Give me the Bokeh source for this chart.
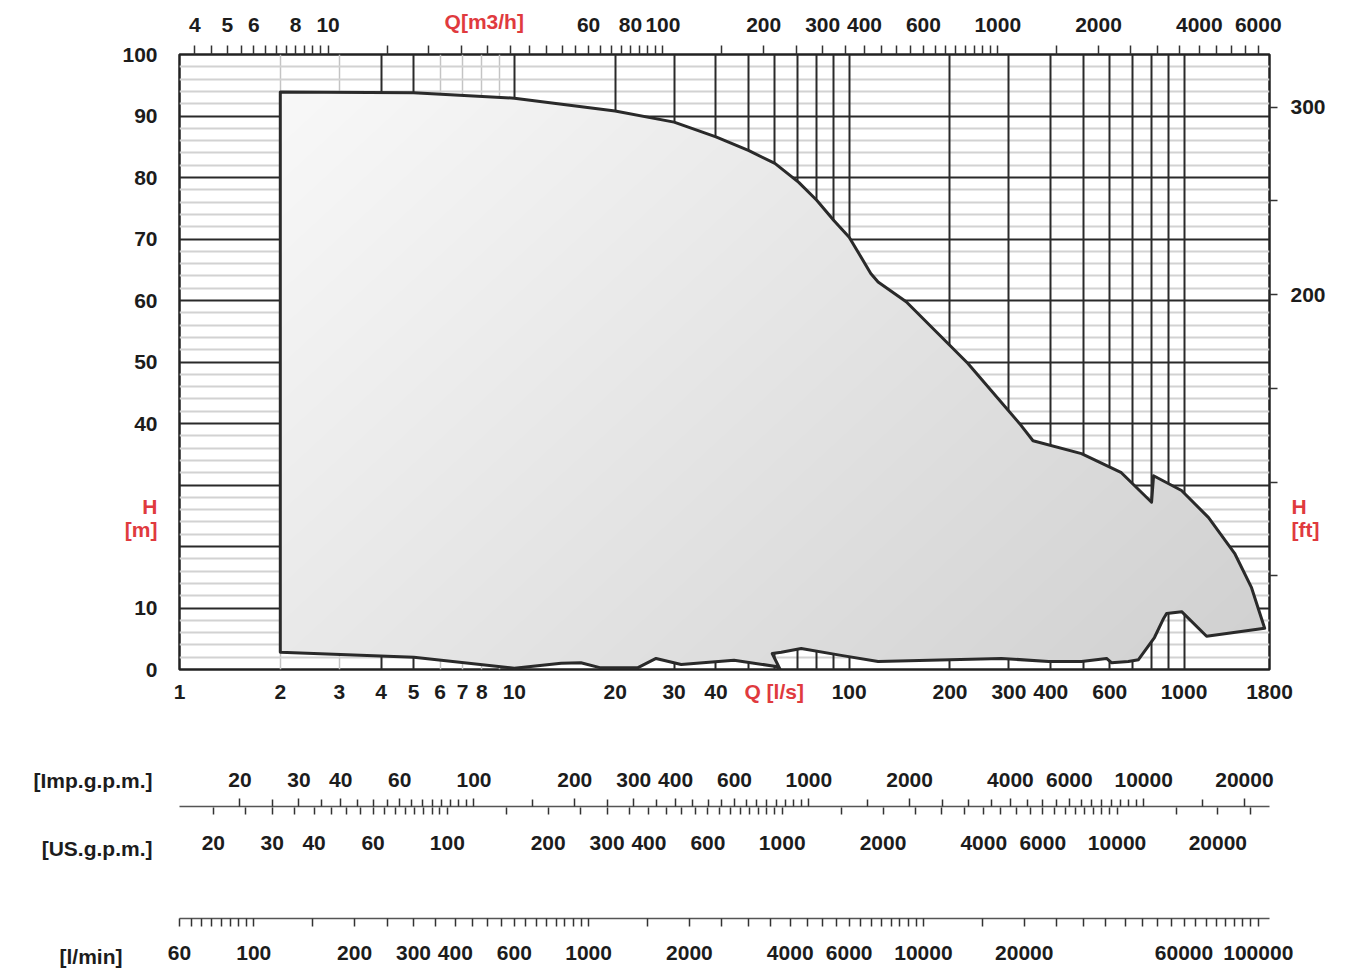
import numpy as np
from bokeh.plotting import figure
from bokeh.models import (Range1d, LogScale, LogAxis, LinearAxis, FixedTicker, Grid,
                          NumeralTickFormatter)
from bokeh.core.properties import value
from bokeh.layouts import column, row
from bokeh.embed import file_html
from bokeh.resources import INLINE

# ---------------- data ----------------
# upper envelope (Q in l/s, H in m), left to right
top_q = [2, 5, 10, 20, 30, 40, 50, 60, 70.7, 80, 90, 100, 116, 122, 148, 226, 326, 354,
         494, 650, 800, 811, 983, 1184, 1416, 1591, 1741]
top_h = [93.9, 93.8, 92.9, 90.8, 89.0, 86.6, 84.4, 82.3, 79.2, 76.3, 73.0, 70.3, 64.4, 63.0,
         59.8, 49.8, 39.7, 37.2, 35.1, 32.0, 27.2, 31.5, 29.1, 24.7, 18.9, 13.3, 6.7]
# lower envelope, left to right
bot_q = [2, 5.01, 10, 13.8, 15.8, 18.0, 23.4, 26.5, 31.5, 45.3, 60.5, 62.2, 58.9, 62.7, 71.9,
         94.6, 122, 285, 394, 494, 587, 607, 682, 731, 816, 869, 887, 984, 1168]
bot_h = [2.8, 2.0, 0.2, 1.0, 1.1, 0.3, 0.3, 1.8, 0.8, 1.5, 0.5, 0.0, 2.6, 2.8, 3.4,
         2.3, 1.3, 1.8, 1.3, 1.3, 1.8, 1.1, 1.3, 1.6, 5.2, 8.3, 9.1, 9.4, 5.4]

# tick labels
ls_labels = [1, 2, 3, 4, 5, 6, 7, 8, 10, 20, 30, 40, 100, 200, 300, 400, 600, 1000, 1800]
h_labels = [0, 10, 40, 50, 60, 70, 80, 90, 100]
ft_labels = [200, 300]
ft_minor = [50, 100, 150, 250]
m3h_labels = [4, 5, 6, 8, 10, 60, 80, 100, 200, 300, 400, 600, 1000, 2000, 4000, 6000]
imp_labels = [20, 30, 40, 60, 100, 200, 300, 400, 600, 1000, 2000, 4000, 6000, 10000, 20000]
us_labels = [20, 30, 40, 60, 100, 200, 300, 400, 600, 1000, 2000, 4000, 6000, 10000, 20000]
lmin_labels = [60, 100, 200, 300, 400, 600, 1000, 2000, 4000, 6000, 10000, 20000, 60000, 100000]

# grid
v_dark = [4, 5, 10, 20, 30, 40, 50, 60, 70, 80, 90, 100, 200, 300, 400, 500, 600, 700, 800, 900, 1000]
v_light = [2, 3, 6, 7, 8, 9]
h_dark = [10, 20, 30, 40, 50, 60, 70, 80, 90]
h_light = [2, 4, 6, 8, 12, 14, 16, 18, 22, 24, 26, 28, 32, 34, 36, 38, 42, 44, 46, 48, 52, 54, 56, 58,
           62, 64, 66, 68, 72, 74, 76, 78, 82, 84, 86, 88, 92, 94, 96, 98]

# unit conversions from l/s
M3H, IMP, USG, LMIN, FT = 3.6, 13.198, 15.850, 60.0, 3.28084
Q_MIN, Q_MAX = 1, 1800


def runs(*specs):
    out = []
    for a, b, s in specs:
        out += list(np.round(np.arange(a, b + s / 2, s), 3))
    return out


def minor_of(all_ticks, labels):
    return [float(t) for t in all_ticks if t not in labels]


m3h_minor = minor_of(runs((4, 10, 0.5), (15, 100, 5), (150, 1000, 50), (1500, 6000, 500)), m3h_labels)
imp_minor = minor_of(runs((20, 100, 5), (150, 1000, 50), (1500, 10000, 500), (15000, 20000, 5000)), imp_labels)
us_minor = minor_of(runs((20, 100, 5), (150, 1000, 50), (1500, 10000, 500), (15000, 25000, 5000)), us_labels)
lmin_minor = minor_of(runs((60, 100, 5), (150, 1000, 50), (1500, 10000, 500), (15000, 100000, 5000)), lmin_labels)

FONT = "Liberation Sans"
FS = "21px"
RED = "#e03a3e"
INK = "#1c1c1c"
FRAME_W = 1090
LEFT = 179
RIGHT = 60
LAB_W = 155


def drop_grids(fig):
    fig.center = [c for c in fig.center if not isinstance(c, Grid)]


def style_axis(ax, tick_out, standoff, minor_out=None, color=INK):
    ax.major_label_text_font = FONT
    ax.major_label_text_font_size = FS
    ax.major_label_text_font_style = "bold"
    ax.major_label_text_color = color
    ax.major_tick_in = 0
    ax.minor_tick_in = 0
    ax.major_tick_out = tick_out
    ax.minor_tick_out = tick_out if minor_out is None else minor_out
    ax.major_tick_line_color = "#333333" if tick_out else None
    ax.minor_tick_line_color = "#333333" if tick_out else None
    ax.major_tick_line_width = 1.5
    ax.minor_tick_line_width = 1.5
    ax.major_label_standoff = standoff


def text_axis(plot, cls, side, ticks, texts, standoff):
    ax = cls(ticker=FixedTicker(ticks=ticks), major_label_overrides=dict(zip(ticks, texts)))
    ax.axis_line_color = None
    style_axis(ax, 0, standoff, color=RED)
    plot.add_layout(ax, side)


# ---------------- main chart ----------------
p = figure(x_axis_type="log", x_range=Range1d(Q_MIN, Q_MAX), y_range=Range1d(0, 100),
           frame_width=FRAME_W, frame_height=615, min_border_left=LEFT, min_border_top=54,
           min_border_bottom=45, min_border_right=RIGHT, output_backend="svg", toolbar_location=None)
drop_grids(p)
p.outline_line_color = "#222222"
p.outline_line_width = 2.5

xa = p.xaxis[0]
xa.ticker = FixedTicker(ticks=ls_labels)
xa.formatter = NumeralTickFormatter(format="0")
xa.axis_line_color = None
style_axis(xa, 0, 15)

ya = p.yaxis[0]
ya.ticker = FixedTicker(ticks=h_labels)
ya.axis_line_color = None
style_axis(ya, 0, 22)

p.extra_y_ranges = {"ft": Range1d(0, 100 * FT)}
ra = LinearAxis(y_range_name="ft", ticker=FixedTicker(ticks=ft_labels, minor_ticks=ft_minor))
ra.axis_line_color = None
style_axis(ra, 8, 13)
p.add_layout(ra, "right")

p.extra_x_ranges = {"m3h": Range1d(Q_MIN * M3H, Q_MAX * M3H)}
p.extra_x_scales = {"m3h": LogScale()}
ta = LogAxis(x_range_name="m3h", ticker=FixedTicker(ticks=m3h_labels, minor_ticks=m3h_minor),
             formatter=NumeralTickFormatter(format="0"))
ta.axis_line_color = None
style_axis(ta, 9, 14)
p.add_layout(ta, "above")

# red unit captions, sitting in the rows / columns of the tick labels
text_axis(p, LogAxis, "above", [8.13], ["Q[m3/h]"], -18)
text_axis(p, LogAxis, "below", [59.7], ["Q [l/s]"], -22)
text_axis(p, LinearAxis, "left", [22.8, 26.5], ["[m]", "H"], -38)
text_axis(p, LinearAxis, "right", [22.8, 26.5], ["[ft]", "H"], -37)

p.add_layout(Grid(dimension=0, ticker=FixedTicker(ticks=v_light), grid_line_color="#c4c4c4", grid_line_width=1.5))
p.add_layout(Grid(dimension=1, ticker=FixedTicker(ticks=h_light), grid_line_color="#d2d2d2", grid_line_width=2))
p.add_layout(Grid(dimension=0, ticker=FixedTicker(ticks=v_dark), grid_line_color="#2a2a2a", grid_line_width=2))
p.add_layout(Grid(dimension=1, ticker=FixedTicker(ticks=h_dark), grid_line_color="#2a2a2a", grid_line_width=2))

poly_q = top_q + bot_q[::-1]
poly_h = top_h + bot_h[::-1]

# shaded fill (light at top-left, darker towards bottom-right) masked to the envelope
NX, NY = FRAME_W, 615
lo, hi = np.log10(Q_MIN), np.log10(Q_MAX)
gx = lo + (np.arange(NX) + 0.5) * (hi - lo) / NX
gy = (np.arange(NY) + 0.5) * 100.0 / NY
X, Y = np.meshgrid(gx, gy)
px_ = np.log10(np.array(poly_q, dtype=float))
py_ = np.array(poly_h, dtype=float)
inside = np.zeros(X.shape, dtype=bool)
n = len(px_)
for i in range(n):
    x1, y1, x2, y2 = px_[i], py_[i], px_[(i + 1) % n], py_[(i + 1) % n]
    if y1 == y2:
        continue
    cond = (y1 > Y) != (y2 > Y)
    xint = x1 + (Y - y1) * (x2 - x1) / (y2 - y1)
    inside ^= cond & (X < xint)
u = (X - lo) / (hi - lo)
v = 1.0 - Y / 100.0
shade = np.clip(252 - 44 * (0.62 * u + 0.38 * v), 0, 255).astype(np.uint8)
img = np.zeros((NY, NX), dtype=np.uint32)
view = img.view(dtype=np.uint8).reshape((NY, NX, 4))
view[..., 0] = shade
view[..., 1] = shade
view[..., 2] = shade
view[..., 3] = np.where(inside, 255, 0).astype(np.uint8)
p.image_rgba(image=[img], x=Q_MIN, y=0, dw=Q_MAX - Q_MIN, dh=100, level="glyph")

p.patch(poly_q, poly_h, fill_color=None, line_color="#2a2a2a", line_width=3, line_join="round")

# ---------------- gpm scales ----------------
H2_TOP, H2_BOT = 92, 53
p2 = figure(x_axis_type="log", x_range=p.x_range, y_range=Range1d(0, 1),
            frame_width=FRAME_W, frame_height=1, min_border_left=LEFT - LAB_W, min_border_top=H2_TOP,
            min_border_bottom=H2_BOT, min_border_right=RIGHT, output_backend="svg", toolbar_location=None,
            x_axis_location=None, y_axis_location=None)
drop_grids(p2)
p2.outline_line_color = None
p2.extra_x_ranges = {"imp": Range1d(Q_MIN * IMP, Q_MAX * IMP), "us": Range1d(Q_MIN * USG, Q_MAX * USG)}
p2.extra_x_scales = {"imp": LogScale(), "us": LogScale()}
ia = LogAxis(x_range_name="imp", ticker=FixedTicker(ticks=imp_labels, minor_ticks=imp_minor),
             formatter=NumeralTickFormatter(format="0"))
ia.axis_line_color = "#555555"
ia.axis_line_width = 1.5
style_axis(ia, 8, 12, 7)
p2.add_layout(ia, "above")
ua = LogAxis(x_range_name="us", ticker=FixedTicker(ticks=us_labels, minor_ticks=us_minor),
             formatter=NumeralTickFormatter(format="0"))
ua.axis_line_color = None
style_axis(ua, 7, 21)
p2.add_layout(ua, "below")

# ---------------- l/min scale ----------------
H3_TOP, H3_BOT = 57, 51
p3 = figure(x_axis_type="log", x_range=p.x_range, y_range=Range1d(0, 1),
            frame_width=FRAME_W, frame_height=1, min_border_left=LEFT - LAB_W, min_border_top=H3_TOP,
            min_border_bottom=H3_BOT, min_border_right=RIGHT, output_backend="svg", toolbar_location=None,
            x_axis_location=None, y_axis_location=None)
drop_grids(p3)
p3.outline_line_color = None
p3.extra_x_ranges = {"lmin": Range1d(Q_MIN * LMIN, Q_MAX * LMIN)}
p3.extra_x_scales = {"lmin": LogScale()}
la = LogAxis(x_range_name="lmin", ticker=FixedTicker(ticks=lmin_labels, minor_ticks=lmin_minor),
             formatter=NumeralTickFormatter(format="0"))
la.axis_line_color = "#555555"
la.axis_line_width = 1.5
style_axis(la, 8, 19)
p3.add_layout(la, "below")

# ---------------- unit names of the lower scales ----------------
LAB_H = (H2_TOP + 1 + H2_BOT) + (H3_TOP + 1 + H3_BOT)
unit_names = ["[Imp.g.p.m.]", "[US.g.p.m.]", "[l/min]"]
unit_right = [152, 152, 122]
unit_row = [66, 134, 242]
lab = figure(width=LAB_W, height=LAB_H, x_range=Range1d(0, LAB_W), y_range=Range1d(LAB_H, 0),
             min_border=0, output_backend="svg", toolbar_location=None,
             x_axis_location=None, y_axis_location=None)
drop_grids(lab)
lab.outline_line_color = None
lab.text(x=unit_right, y=unit_row, text=unit_names, text_align="right", text_baseline="middle",
         text_font=value(FONT), text_font_size=value(FS), text_font_style="bold", text_color=INK)

layout = column(p, row(lab, column(p2, p3, spacing=0), spacing=0), spacing=0)
open("out.html", "w").write(file_html(layout, INLINE))
